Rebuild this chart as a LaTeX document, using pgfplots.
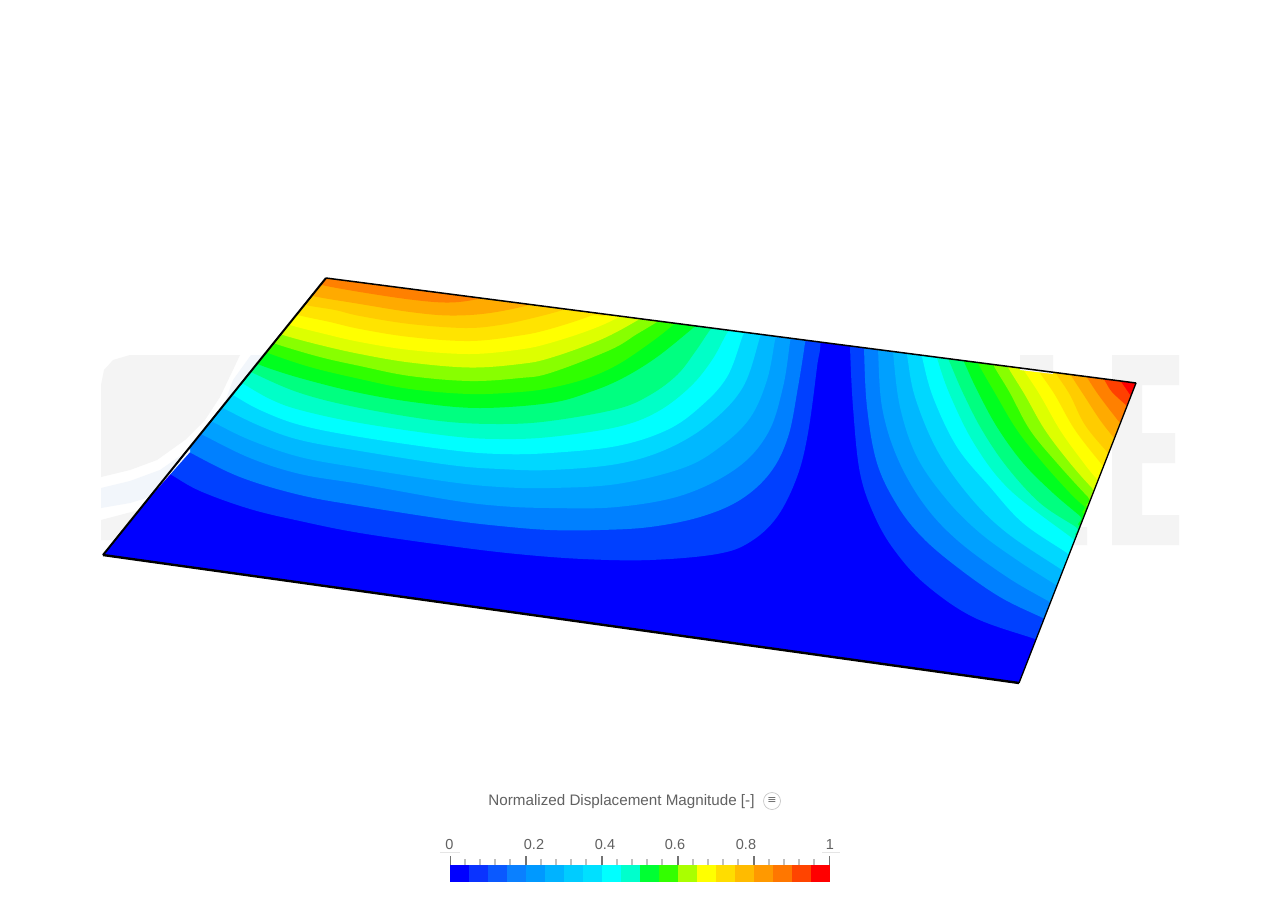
\documentclass[border=0pt]{standalone}
\usepackage{pgfplots}
\usepackage{fontspec}
\setmainfont{Liberation Sans}
\newfontfamily\symfont{DejaVu Sans}
\pgfplotsset{compat=1.18}
\definecolor{b1}{HTML}{0000FF}\definecolor{b2}{HTML}{0040FF}\definecolor{b3}{HTML}{0080FF}\definecolor{b4}{HTML}{00A0FF}
\definecolor{b5}{HTML}{00B8FF}\definecolor{b6}{HTML}{00D8FF}\definecolor{b7}{HTML}{00FFFF}\definecolor{b8}{HTML}{00FFC8}
\definecolor{b9}{HTML}{00FF80}\definecolor{b10}{HTML}{00FF20}\definecolor{b11}{HTML}{30FF00}\definecolor{b12}{HTML}{88FF00}
\definecolor{b13}{HTML}{DDFF00}\definecolor{b14}{HTML}{FFFF00}\definecolor{b15}{HTML}{FFE400}\definecolor{b16}{HTML}{FFCC00}
\definecolor{b17}{HTML}{FFAA00}\definecolor{b18}{HTML}{FF8000}\definecolor{b19}{HTML}{FF4000}\definecolor{b20}{HTML}{FF0000}
\definecolor{wm}{HTML}{F4F4F4}\definecolor{wmb}{HTML}{F2F6FB}
\definecolor{c1}{HTML}{0000FF}\definecolor{c2}{HTML}{0A33FF}\definecolor{c3}{HTML}{0A59FF}\definecolor{c4}{HTML}{0A80FF}
\definecolor{c5}{HTML}{0099FF}\definecolor{c6}{HTML}{00B3FF}\definecolor{c7}{HTML}{00CCFF}\definecolor{c8}{HTML}{00E0FF}
\definecolor{c9}{HTML}{00FFFF}\definecolor{c10}{HTML}{00FFCC}\definecolor{c11}{HTML}{00FF33}\definecolor{c12}{HTML}{33FF00}
\definecolor{c13}{HTML}{AAFF00}\definecolor{c14}{HTML}{FFFF00}\definecolor{c15}{HTML}{FFDD00}\definecolor{c16}{HTML}{FFBB00}
\definecolor{c17}{HTML}{FF9900}\definecolor{c18}{HTML}{FF7700}\definecolor{c19}{HTML}{FF4400}\definecolor{c20}{HTML}{FF0000}
\newcommand{\band}[2]{\addplot[fill=#1,draw=none,smooth,tension=0.6] coordinates {#2};}
\newcommand{\poly}[2]{\addplot[fill=#1,draw=none] coordinates {#2};}
\newcommand{\cb}[3]{\addplot[fill=#1,draw=none] coordinates {(#2,865) (#3,865) (#3,882) (#2,882)};}
\begin{document}
\begin{tikzpicture}
\begin{axis}[scale only axis,width=1280pt,height=900pt,xmin=0,xmax=1280,ymin=0,ymax=900,y dir=reverse,hide axis,unbounded coords=jump]
% plate base
\poly{b1}{(326,278) (1136,383) (1019,683) (103,555)}
% contours
\band{b2}{(155,466)(170,474)(200,491)(250,509)(300,521)(360,533)(450,546)(517,554)(583,559)(650,560)(717,554)(750,542)(777,517)(797,477)(808,433)(817,367)(821,330)(821,200)(50,200)}
\band{b2}{(850,330)(850,347)(853,407)(860,473)(875,517)(895,551)(925,584)(973,617)(1035,639)(1050,645)(1250,645)(1250,200)(850,200)}
\band{b3}{(175,444)(189,452)(240,477)(300,495)(360,506)(450,520)(500,526)(550,530)(600,530)(650,527)(700,517)(740,500)(770,473)(788,437)(798,387)(805,343)(807,325)(807,200)(50,200)}
\band{b3}{(864,330)(864,348)(867,407)(877,463)(897,505)(922,537)(957,567)(1000,597)(1043,618)(1058,625)(1250,625)(1250,200)(864,200)}
\band{b4}{(190,428)(203,435)(250,458)(300,474)(360,484)(450,500)(500,506)(550,508)(617,507)(683,495)(737,468)(768,433)(783,387)(790,342)(792,325)(792,200)(50,200)}
\band{b4}{(877,332)(878,350)(882,407)(897,457)(923,503)(957,540)(1007,577)(1050,602)(1065,610)(1250,610)(1250,200)(877,200)}
\band{b5}{(200,415)(213,422)(250,440)(300,457)(360,468)(450,482)(500,487)(550,488)(617,484)(683,468)(720,447)(750,418)(767,380)(775,340)(778,325)(778,200)(50,200)}
\band{b5}{(892,335)(893,352)(900,407)(917,457)(947,500)(980,533)(1020,562)(1056,585)(1070,595)(1250,595)(1250,200)(892,200)}
\band{b6}{(210,401)(223,408)(260,426)(300,440)(360,451)(450,465)(500,469)(550,470)(617,464)(667,449)(710,423)(743,387)(760,337)(765,320)(765,200)(50,200)}
\band{b6}{(904,338)(907,355)(915,397)(937,450)(970,497)(1007,533)(1062,570)(1075,580)(1250,580)(1250,200)(904,200)}
\band{b7}{(220,388)(233,395)(260,410)(300,425)(360,437)(450,450)(500,454)(550,453)(617,446)(667,430)(700,407)(727,377)(743,335)(750,318)(750,200)(50,200)}
\band{b7}{(918,340)(922,357)(933,397)(957,447)(990,487)(1023,523)(1067,553)(1080,563)(1250,563)(1250,200)(918,200)}
\band{b8}{(230,376)(242,383)(270,399)(300,410)(360,423)(450,436)(500,439)(550,437)(617,427)(657,412)(690,387)(712,360)(727,333)(738,318)(738,200)(50,200)}
\band{b8}{(932,340)(937,358)(950,395)(975,445)(1010,490)(1072,538)(1085,548)(1250,548)(1250,200)(932,200)}
\band{b9}{(240,366)(253,373)(300,393)(360,408)(440,421)(500,424)(550,421)(617,409)(650,395)(677,375)(695,352)(710,330)(722,316)(722,200)(50,200)}
\band{b9}{(942,345)(950,363)(963,393)(982,430)(1007,467)(1040,503)(1076,527)(1090,537)(1250,537)(1250,200)(942,200)}
\band{b10}{(247,358)(260,365)(300,378)(360,393)(420,403)(480,408)(550,403)(590,392)(623,378)(657,357)(693,328)(708,315)(708,200)(50,200)}
\band{b10}{(957,347)(965,364)(977,390)(997,427)(1023,463)(1053,493)(1080,516)(1093,528)(1250,528)(1250,200)(957,200)}
\band{b11}{(255,347)(268,353)(310,367)(360,379)(410,389)(470,394)(520,392)(550,388)(585,379)(617,365)(650,343)(673,325)(690,310)(690,200)(50,200)}
\band{b11}{(972,350)(980,367)(995,393)(1017,430)(1043,463)(1070,493)(1084,506)(1098,516)(1250,516)(1250,200)(972,200)}
\band{b12}{(263,338)(276,344)(320,357)(360,366)(410,376)(470,381)(520,378)(550,373)(610,350)(637,334)(657,322)(675,310)(675,200)(50,200)}
\band{b12}{(987,352)(995,368)(1010,393)(1030,430)(1057,463)(1088,497)(1100,508)(1250,508)(1250,200)(987,200)}
\band{b13}{(270,329)(283,335)(320,345)(360,354)(410,362.5)(470,367.5)(520,364)(550,358)(600,340)(638,320)(655,308)(655,200)(50,200)}
\band{b13}{(1000,352)(1009,369)(1025,395)(1045,430)(1070,463)(1092,488)(1105,500)(1250,500)(1250,200)(1000,200)}
\band{b14}{(277,319)(290,325)(325,334)(360,342)(410,350)(470,354)(520,349.5)(550,343)(590,330)(617,318)(635,306)(635,200)(50,200)}
\band{b14}{(1015,355)(1025,372)(1040,395)(1060,430)(1080,458)(1096,478)(1110,490)(1250,490)(1250,200)(1015,200)}
\band{b15}{(285,309)(298,315)(330,322)(360,329)(410,337)(470,341)(520,335.5)(550,329)(590,316)(610,305)(610,200)(50,200)}
\band{b15}{(1030,357)(1040,373)(1055,395)(1075,430)(1103,466)(1115,480)(1250,480)(1250,200)(1030,200)}
\band{b16}{(293,299)(306,305)(335,310)(360,316)(410,324)(465,328)(500,325)(533,318)(563,310)(585,302)(585,200)(50,200)}
\band{b16}{(1047,358)(1057,375)(1070,395)(1085,425)(1108,453)(1120,466)(1250,466)(1250,200)(1047,200)}
\band{b17}{(300,290)(313,296)(360,304)(410,312)(450,315.5)(490,313)(533,304)(555,295)(555,200)(50,200)}
\band{b17}{(1062,360)(1072,377)(1085,397)(1100,420)(1114,438)(1125,452)(1250,452)(1250,200)(1062,200)}
\band{b18}{(310,280)(322,285)(360,292)(410,299.5)(445,302.5)(470,300.5)(490,295)(500,285)(500,200)(50,200)}
\band{b18}{(1078,363)(1088,379)(1100,397)(1120,423)(1132,437)(1250,437)(1250,200)(1078,200)}
\band{b19}{(1095,365)(1105,381)(1112,392)(1127,406)(1140,418)(1250,418)(1250,200)(1095,200)}
\band{b20}{(1113,370)(1122,383)(1131,396)(1140,408)(1250,408)(1250,200)(1113,200)}
% mask outside the plate
\poly{white}{(0,0)(1280,0)(1280,900)(0,900)(0,0)(326,278)(103,555)(1019,683)(1136,383)(326,278)(0,0)}
% watermark
\poly{wm}{(101,477)(101,385)(104,370)(113,360)(130,355)(240,355)(232,372)(220,397)(205,420)(185,440)(157,460)(130,470)}
\poly{wmb}{(101,488)(130,481)(160,470)(190,449)(190,452)(150,497)(130,503)(101,508)}
\poly{wm}{(101,520)(139,510)(115,540)(101,540)}
\poly{wmb}{(251,355)(264,355)(225,402)(233,380)}
\poly{wm}{(1112,355)(1179,355)(1179,385)(1142,385)(1142,433)(1175,433)(1175,463)(1142,463)(1142,515)(1179,515)(1179,545)(1112,545)(1112,444)(1136,383)(1112,380)}
\poly{wm}{(1020,355)(1053,355)(1053,374)(1020,370)}
\poly{wm}{(1073,545)(1087,545)(1087,527)(1080,527)}
% plate outline
\addplot[black,line width=1.5pt] coordinates {(326,278)(1136,383)};
\addplot[black,line width=1.3pt] coordinates {(1136,383)(1019,683)};
\addplot[black,line width=2.4pt] coordinates {(1019,683)(103,555)};
\addplot[black,line width=2pt] coordinates {(103,555)(326,278)};
% colour bar
\cb{c1}{450}{469}\cb{c2}{469}{488}\cb{c3}{488}{507}\cb{c4}{507}{526}\cb{c5}{526}{545}
\cb{c6}{545}{564}\cb{c7}{564}{583}\cb{c8}{583}{602}\cb{c9}{602}{621}\cb{c10}{621}{640}
\cb{c11}{640}{659}\cb{c12}{659}{678}\cb{c13}{678}{697}\cb{c14}{697}{716}\cb{c15}{716}{735}
\cb{c16}{735}{754}\cb{c17}{754}{773}\cb{c18}{773}{792}\cb{c19}{792}{811}\cb{c20}{811}{830}
\addplot[color=black!25,line width=1.6pt] coordinates {(465,865)(465,859)(nan,nan)(480,865)(480,859)(nan,nan)(495,865)(495,859)(nan,nan)(510,865)(510,859)(nan,nan)(541,865)(541,859)(nan,nan)(556,865)(556,859)(nan,nan)(571,865)(571,859)(nan,nan)(586,865)(586,859)(nan,nan)(617,865)(617,859)(nan,nan)(632,865)(632,859)(nan,nan)(647,865)(647,859)(nan,nan)(662,865)(662,859)(nan,nan)(693,865)(693,859)(nan,nan)(708,865)(708,859)(nan,nan)(723,865)(723,859)(nan,nan)(738,865)(738,859)(nan,nan)(769,865)(769,859)(nan,nan)(784,865)(784,859)(nan,nan)(799,865)(799,859)(nan,nan)(814,865)(814,859)};
\addplot[color=black!55,line width=1.6pt] coordinates {(526,865)(526,856)(nan,nan)(602,865)(602,856)(nan,nan)(678,865)(678,856)(nan,nan)(754,865)(754,856)};
\addplot[color=black!55,line width=1pt] coordinates {(450,865)(450,856)(nan,nan)(829.5,865)(829.5,856)};
\addplot[color=black!10,line width=0.8pt] coordinates {(440,852)(460,852)(nan,nan)(822,852)(840,852)};
\node[text=black!62,font=\fontsize{15.2}{18}\selectfont] at (axis cs:621.5,802) {Normalized Displacement Magnitude [-]};
\node[circle,draw=black!22,line width=0.7pt,inner sep=0pt,minimum size=17pt,text=black!60,font=\symfont\fontsize{11}{12}\selectfont] at (axis cs:772,801) {≡};
\foreach \x/\l in {449.5/0,534/0.2,605/0.4,675/0.6,746/0.8,830/1} {
  \edef\temp{\noexpand\node[text=black!62,font=\noexpand\fontsize{14.5}{16}\noexpand\selectfont] at (axis cs:\x,844.5) {\l};}
  \temp
}
\end{axis}
\end{tikzpicture}
\end{document}
